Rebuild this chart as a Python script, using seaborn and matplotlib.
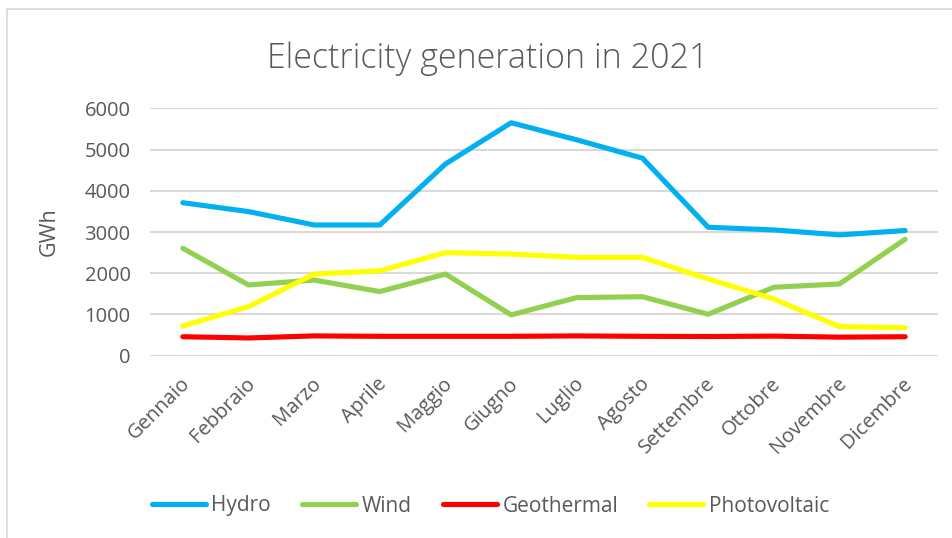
import matplotlib
matplotlib.use("Agg")
import matplotlib.pyplot as plt
import matplotlib.transforms as mtransforms
from matplotlib.lines import Line2D
import seaborn as sns
import pandas as pd

# Monthly electricity generation, 2021 (GWh)
months = ["Gennaio", "Febbraio", "Marzo", "Aprile", "Maggio", "Giugno",
          "Luglio", "Agosto", "Settembre", "Ottobre", "Novembre", "Dicembre"]
hydro = [3710, 3495, 3170, 3170, 4650, 5650, 5235, 4790, 3115, 3050, 2930, 3035]
wind = [2605, 1715, 1835, 1555, 1980, 990, 1410, 1430, 1005, 1660, 1740, 2825]
geothermal = [460, 430, 480, 470, 470, 470, 480, 470, 465, 475, 450, 460]
photovoltaic = [720, 1190, 1980, 2060, 2500, 2465, 2385, 2385, 1860, 1375, 705, 680]

series = {"Hydro": hydro, "Wind": wind, "Geothermal": geothermal,
          "Photovoltaic": photovoltaic}
colors = {"Hydro": "#00B0F0", "Wind": "#92D050", "Geothermal": "#FF0000",
          "Photovoltaic": "#FFFF00"}

df = pd.DataFrame([
    {"Mese": m, "GWh": v, "Fonte": name}
    for name, vals in series.items() for m, v in zip(months, vals)
])

sns.set_theme(style="white")
plt.rcParams["font.family"] = ["Open Sans", "DejaVu Sans"]
text_col = "#595959"
grid_col = "#D9D9D9"

fig = plt.figure(figsize=(9.53, 5.38), dpi=100)
ax = fig.add_axes([150 / 953, 1 - 355.7 / 538, 788 / 953, 247.4 / 538])

sns.lineplot(data=df, x="Mese", y="GWh", hue="Fonte", palette=colors,
             hue_order=list(series), linewidth=3.7, sort=False, ax=ax,
             legend=False)
for ln in ax.lines:
    ln.set_solid_capstyle("round")
    ln.set_solid_joinstyle("round")

ax.set_xlim(-0.5, len(months) - 0.5)
ax.set_ylim(0, 6000)
ax.set_yticks(range(0, 6001, 1000))
ax.grid(axis="y", color=grid_col, linewidth=1.5)
ax.set_axisbelow(True)
for s in ax.spines.values():
    s.set_visible(False)

ax.tick_params(axis="y", length=0, pad=14, labelsize=14.5, labelcolor=text_col)
ax.tick_params(axis="x", length=0, pad=18, labelsize=14.5, labelcolor=text_col)
ax.set_xticks(range(len(months)))
ax.set_xticklabels(months, rotation=45, ha="right", va="center",
                   rotation_mode="anchor")
shift = mtransforms.ScaledTranslation(4 / 100, 0, fig.dpi_scale_trans)
for lbl in ax.get_xticklabels():
    lbl.set_transform(lbl.get_transform() + shift)

ax.set_xlabel("")
ax.set_ylabel("GWh", fontsize=15.5, color=text_col, va="center")
ax.yaxis.set_label_coords(-0.128, 0.5)

fig.text(487.5 / 953, 1 - 68 / 538, "Electricity generation in 2021",
         ha="center", va="baseline", fontsize=24.5, fontweight="light",
         color=text_col)

handles = [Line2D([], [], color=colors[n], linewidth=3.7,
                  solid_capstyle="round") for n in series]
fig.legend(handles, list(series), loc="center", ncol=4,
           bbox_to_anchor=(490.5 / 953, 1 - 506 / 538), frameon=False,
           fontsize=15, labelcolor=text_col, handlelength=2.6,
           handletextpad=0.25, columnspacing=1.5)

# chart-area border
fig.add_artist(Line2D([7 / 953, 1], [1 - 9 / 538] * 2, color=grid_col,
                      linewidth=1.2, transform=fig.transFigure))
fig.add_artist(Line2D([7 / 953] * 2, [0, 1 - 9 / 538], color=grid_col,
                      linewidth=1.2, transform=fig.transFigure))

fig.savefig("out.png", dpi=100)
